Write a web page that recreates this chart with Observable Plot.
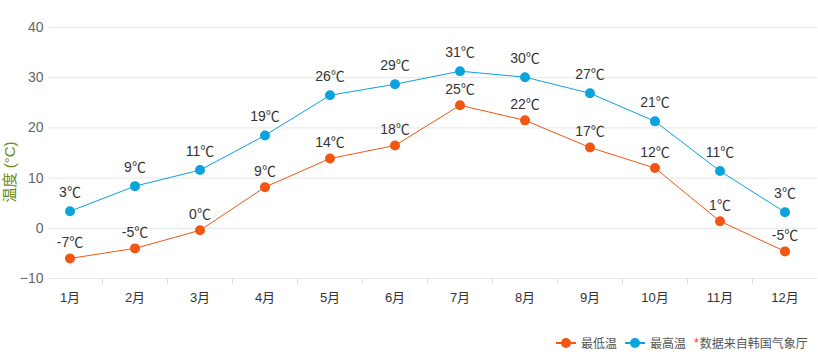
<!DOCTYPE html>
<html>
<head>
<meta charset="utf-8">
<script src="https://cdn.jsdelivr.net/npm/d3@7"></script>
<script src="https://cdn.jsdelivr.net/npm/@observablehq/plot@0.6"></script>
<style>
  html, body { margin: 0; padding: 0; background: #fff; }
  body { width: 818px; height: 363px; overflow: hidden; font-family: "Liberation Sans", "Noto Sans CJK SC", sans-serif; }
  #legend { position: absolute; top: 334px; left: 556px; font-size: 12px; color: #555; display: flex; align-items: center; white-space: nowrap; }
  .item { display: flex; align-items: center; margin-right: 8px; }
  .sw { position: relative; width: 20px; height: 10px; margin-right: 5px; }
  .sw .ln { position: absolute; left: 0; right: 0; top: 4px; height: 2px; }
  .sw .dt { position: absolute; left: 5px; top: 0; width: 10px; height: 10px; border-radius: 50%; }
  .star { color: #ff2a2a; margin-right: 1px; }
</style>
</head>
<body>
<div id="chart"></div>
<div id="legend">
  <div class="item"><div class="sw"><div class="ln" style="background:#f25612"></div><div class="dt" style="background:#f25612"></div></div>最低温</div>
  <div class="item"><div class="sw"><div class="ln" style="background:#0aa3dc"></div><div class="dt" style="background:#0aa3dc"></div></div>最高温</div>
  <div class="item"><span class="star">*</span>数据来自韩国气象厅</div>
</div>
<script>
const months = ["1月","2月","3月","4月","5月","6月","7月","8月","9月","10月","11月","12月"];
const highValues = [3.4, 8.4, 11.6, 18.5, 26.5, 28.7, 31.3, 30.1, 26.9, 21.3, 11.4, 3.2];
const lowValues = [-6.0, -4.0, -0.4, 8.2, 13.9, 16.5, 24.5, 21.5, 16.1, 12.0, 1.4, -4.6];
const highLabels = ["3℃","9℃","11℃","19℃","26℃","29℃","31℃","30℃","27℃","21℃","11℃","3℃"];
const lowLabels = ["-7℃","-5℃","0℃","9℃","14℃","18℃","25℃","22℃","17℃","12℃","1℃","-5℃"];
const yTicks = [-10, 0, 10, 20, 30, 40];
const yTitle = "温度 (°C)";

const high = months.map((m, i) => ({i, m, v: highValues[i], label: highLabels[i]}));
const low = months.map((m, i) => ({i, m, v: lowValues[i], label: lowLabels[i]}));
const boundaries = d3.range(0.5, months.length - 1, 1);

const orange = "#f25612";
const blue = "#0aa3dc";
const font = "'Liberation Sans', 'Noto Sans CJK SC', sans-serif";

const chart = Plot.plot({
  width: 818,
  height: 320,
  marginLeft: 37,
  marginRight: 1,
  marginTop: 27,
  marginBottom: 42,
  style: {fontFamily: font, fontSize: "13px", background: "#fff"},
  x: {type: "linear", domain: [-0.5, months.length - 0.5]},
  y: {domain: [-10, 40]},
  marks: [
    Plot.ruleY(yTicks, {stroke: "#e6e6e6", strokeWidth: 1, insetLeft: 12}),
    Plot.ruleX(boundaries, {x: d => d, y1: -10, y2: -10, insetBottom: -6, stroke: "#e0e0e0", strokeWidth: 1}),
    Plot.axisY({ticks: yTicks, tickSize: 0, tickPadding: -6, fill: "#666", fontSize: 14, label: null}),
    Plot.axisX({ticks: d3.range(months.length), tickFormat: i => months[i], tickSize: 0, tickPadding: 14, fill: "#333", fontSize: 13, label: null}),
    Plot.line(low, {x: "i", y: "v", stroke: orange, strokeWidth: 1}),
    Plot.line(high, {x: "i", y: "v", stroke: blue, strokeWidth: 1}),
    Plot.dot(low, {x: "i", y: "v", r: 5, fill: orange}),
    Plot.dot(high, {x: "i", y: "v", r: 5, fill: blue}),
    Plot.text(low, {x: "i", y: "v", text: "label", dy: -16, fill: "#333", fontSize: 14}),
    Plot.text(high, {x: "i", y: "v", text: "label", dy: -19, fill: "#333", fontSize: 14})
  ]
});
document.getElementById("chart").appendChild(chart);

// y-axis title
d3.select(chart).append("text")
  .attr("transform", "translate(15,172) rotate(-90)")
  .attr("text-anchor", "middle")
  .attr("fill", "#6e8b1e")
  .attr("font-size", 15)
  .attr("font-family", font)
  .text(yTitle);
</script>
</body>
</html>
